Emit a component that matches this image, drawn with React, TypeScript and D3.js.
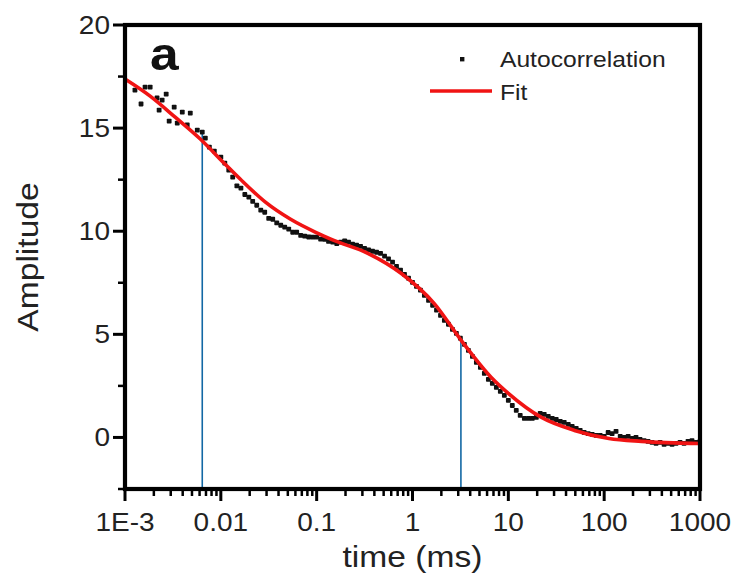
import React from "react";
import * as d3 from "d3";

const xTickValues = [0.001, 0.01, 0.1, 1, 10, 100, 1000];
const xTickLabels = ["1E-3", "0.01", "0.1", "1", "10", "100", "1000"];
const yTickValues = [0, 5, 10, 15, 20];
const yTickLabels = ["0", "5", "10", "15", "20"];
const yMinorValues = [-2.5, 2.5, 7.5, 12.5, 17.5];

// Autocorrelation data (time in ms, amplitude)
const autoTime = [
  0.00127, 0.00147, 0.00162, 0.00183, 0.00216, 0.00227, 0.00244, 0.00269, 0.00289, 0.00326,
  0.00351, 0.00396, 0.00446, 0.0048, 0.00568, 0.0064, 0.00689, 0.00759, 0.00855,
  0.01, 0.011, 0.0121, 0.0133, 0.0147, 0.0162, 0.0178, 0.0196, 0.0215, 0.0237, 0.0261, 0.0287,
  0.0316, 0.0348, 0.0383, 0.0422, 0.0464, 0.0511, 0.0562, 0.0619, 0.0681, 0.075, 0.0825, 0.0909,
  0.1, 0.11, 0.121, 0.133, 0.147, 0.162, 0.178, 0.196, 0.215, 0.237, 0.261, 0.287,
  0.316, 0.348, 0.383, 0.422, 0.464, 0.511, 0.562, 0.619, 0.681, 0.75, 0.825, 0.909,
  1.0, 1.1, 1.21, 1.33, 1.47, 1.62, 1.78, 1.96, 2.15, 2.37, 2.61, 2.87,
  3.16, 3.48, 3.83, 4.22, 4.64, 5.11, 5.62, 6.19, 6.81, 7.5, 8.25, 9.09,
  10, 11, 12.1, 13.3, 14.7, 16.2, 17.8, 19.6, 21.5, 23.7, 26.1, 28.7,
  31.6, 34.8, 38.3, 42.2, 46.4, 51.1, 56.2, 61.9, 68.1, 75, 82.5, 90.9,
  100, 110, 121, 133, 147, 162, 178, 196, 215, 237, 261, 287,
  316, 348, 383, 422, 464, 511, 562, 619, 681, 750, 825, 909, 990,
];
const autoAmp = [
  16.84, 16.17, 16.99, 16.99, 16.46, 15.87, 16.36, 16.65, 15.34, 16.02,
  15.24, 15.78, 15.15, 15.73, 14.9, 14.81, 14.51, 14.08, 13.88,
  13.59, 13.3, 12.96, 12.62, 12.2, 12.09, 11.78, 11.65, 11.45, 11.26, 11.02, 10.92,
  10.62, 10.58, 10.4, 10.29, 10.2, 10.1, 9.95, 9.95, 9.8, 9.76, 9.72, 9.71,
  9.71, 9.62, 9.61, 9.51, 9.47, 9.4, 9.47, 9.53, 9.47, 9.37, 9.32, 9.27,
  9.17, 9.1, 9.03, 8.98, 8.93, 8.79, 8.66, 8.5, 8.3, 8.11, 7.91, 7.72,
  7.52, 7.33, 7.14, 6.89, 6.65, 6.41, 6.17, 5.92, 5.68, 5.49, 5.24, 5.05,
  4.81, 4.51, 4.22, 3.93, 3.64, 3.4, 3.11, 2.82, 2.62, 2.43, 2.23, 2.04,
  1.8, 1.55, 1.31, 1.07, 0.92, 0.92, 0.92, 0.97, 1.17, 1.12, 1.02, 0.92,
  0.87, 0.78, 0.73, 0.63, 0.53, 0.44, 0.34, 0.24, 0.19, 0.15, 0.1, 0.1,
  0.05, 0.24, 0.19, 0.29, 0.05, 0.0, 0.05, -0.05, 0.0, -0.1, -0.15, -0.19,
  -0.24, -0.29, -0.24, -0.34, -0.29, -0.34, -0.29, -0.24, -0.29, -0.19, -0.15, -0.24, -0.22,
];

// Fit curve
const fitTime = [0.001, 0.00183, 0.00334, 0.0061, 0.0111, 0.016, 0.0292, 0.0535, 0.0977, 0.151, 0.342, 0.759, 1.68, 3.22, 6.64, 10, 22.2, 49, 112, 245, 1000];
const fitAmp = [17.38, 16.55, 15.53, 14.47, 13.25, 12.52, 11.41, 10.58, 9.95, 9.56, 8.93, 7.96, 6.5, 4.71, 2.91, 2.14, 0.97, 0.34, -0.05, -0.19, -0.29];

// Vertical marker lines
const markerTime = [0.0064, 3.2];
const markerAmp = [14.8, 4.75];

const legendLabels = ["Autocorrelation", "Fit"];
const panelLabel = "a";
const xTitle = "time (ms)";
const yTitle = "Amplitude";

const FONT = "'Liberation Sans', Arial, Helvetica, sans-serif";
const SX = 1.12;

export default function App() {
  const left = 125, right = 700, top = 25, bottom = 489;
  const x = d3.scaleLog().domain([0.001, 1000]).range([left, right]);
  const y = d3.scaleLinear().domain([-2.5, 20]).range([bottom, top]);
  const minorX = x.ticks().filter((v) => !xTickValues.some((t) => Math.abs(t - v) / t < 1e-6));

  const fitData: [number, number][] = fitTime.map((t, i) => [t, fitAmp[i]]);
  const line = d3
    .line<[number, number]>()
    .x((d) => x(d[0]))
    .y((d) => y(d[1]))
    .curve(d3.curveMonotoneX);

  const ds = 4.8;

  return (
    <svg width={733} height={580} style={{ position: "absolute", left: 0, top: 0, background: "#fff" }}>
      {/* marker lines */}
      {markerTime.map((t, i) => (
        <line key={"m" + i} x1={x(t)} x2={x(t)} y1={y(markerAmp[i])} y2={bottom} stroke="#1268a4" strokeWidth={1.6} />
      ))}
      {/* data */}
      {autoTime.map((t, i) => (
        <rect key={"d" + i} x={x(t) - ds / 2} y={y(autoAmp[i]) - ds / 2} width={ds} height={ds} rx={0.8} fill="#111" />
      ))}
      {/* fit */}
      <path d={line(fitData) || ""} fill="none" stroke="#f01414" strokeWidth={3.6} />

      {/* frame */}
      <rect x={left} y={top} width={right - left} height={bottom - top} fill="none" stroke="#000" strokeWidth={4.2} />

      {/* y ticks */}
      {yTickValues.map((v, i) => (
        <g key={"yt" + i}>
          <line x1={left - 12} x2={left} y1={y(v)} y2={y(v)} stroke="#000" strokeWidth={3} />
          <text
            transform={`translate(${left - 15},${y(v) + 9}) scale(${SX},1)`}
            textAnchor="end"
            fontFamily={FONT}
            fontSize={25}
            fill="#222"
          >
            {yTickLabels[i]}
          </text>
        </g>
      ))}
      {yMinorValues.map((v, i) => (
        <line key={"ym" + i} x1={left - 7} x2={left} y1={y(v)} y2={y(v)} stroke="#000" strokeWidth={2.5} />
      ))}

      {/* x ticks */}
      {xTickValues.map((v, i) => (
        <g key={"xt" + i}>
          <line x1={x(v)} x2={x(v)} y1={bottom} y2={bottom + 12} stroke="#000" strokeWidth={3} />
          <text
            transform={`translate(${x(v)},${bottom + 42}) scale(${SX},1)`}
            textAnchor="middle"
            fontFamily={FONT}
            fontSize={25}
            fill="#222"
          >
            {xTickLabels[i]}
          </text>
        </g>
      ))}
      {minorX.map((v, i) => (
        <line key={"xm" + i} x1={x(v)} x2={x(v)} y1={bottom} y2={bottom + 7} stroke="#000" strokeWidth={2.5} />
      ))}

      {/* axis titles */}
      <text
        transform={`translate(${(left + right) / 2},${567}) scale(${SX},1)`}
        textAnchor="middle"
        fontFamily={FONT}
        fontSize={30}
        fill="#222"
      >
        {xTitle}
      </text>
      <text
        transform={`translate(${38},${(top + bottom) / 2}) rotate(-90) scale(${SX},1)`}
        textAnchor="middle"
        fontFamily={FONT}
        fontSize={30}
        fill="#222"
      >
        {yTitle}
      </text>

      {/* panel label */}
      <text transform={`translate(150,70) scale(${SX},1)`} fontFamily={FONT} fontSize={46} fontWeight="bold" fill="#111">
        {panelLabel}
      </text>

      {/* legend */}
      <rect x={460} y={57} width={4.4} height={4.4} fill="#111" />
      <text transform={`translate(500,67) scale(${SX},1)`} fontFamily={FONT} fontSize={22} fill="#222">
        {legendLabels[0]}
      </text>
      <line x1={430} x2={492} y1={91} y2={91} stroke="#f01414" strokeWidth={3.4} />
      <text transform={`translate(500,100) scale(${SX},1)`} fontFamily={FONT} fontSize={22} fill="#222">
        {legendLabels[1]}
      </text>
    </svg>
  );
}
